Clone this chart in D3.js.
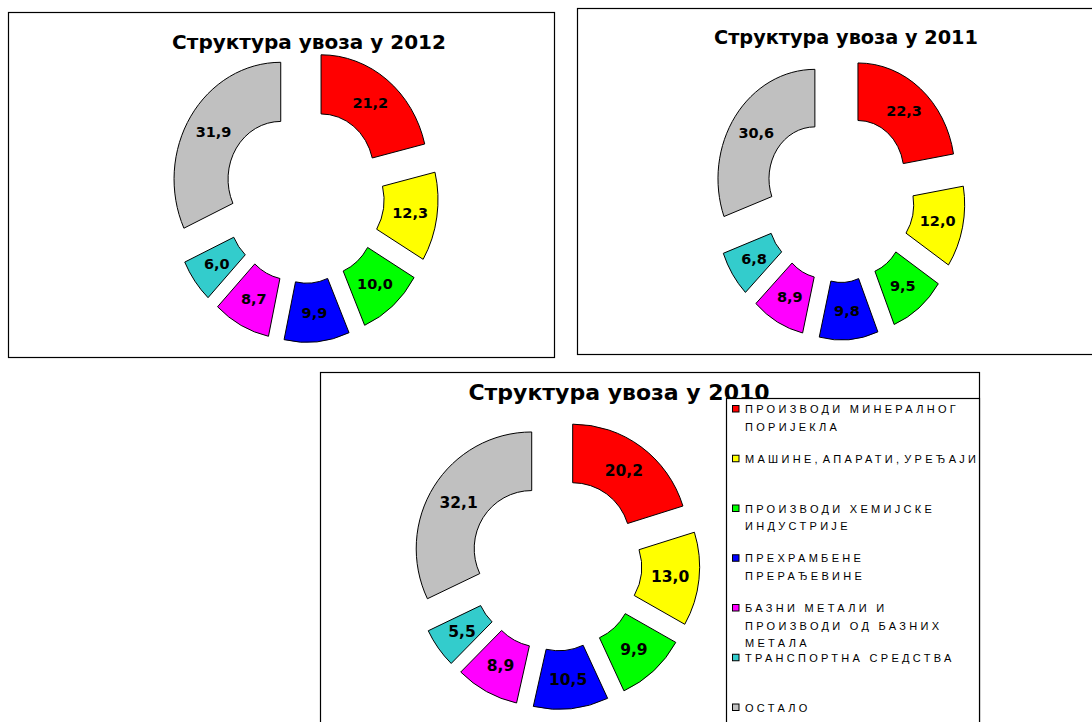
<!DOCTYPE html>
<html>
<head>
<meta charset="utf-8">
<script src="https://cdn.jsdelivr.net/npm/d3@7"></script>
<style>
  body { margin: 0; background: #fff; }
  svg { display: block; }
</style>
</head>
<body>
<script>
// categories (legend order = slice order, clockwise from 12 o'clock)
const categories = [
  'ПРОИЗВОДИ МИНЕРАЛНОГ\nПОРИЈЕКЛА',
  'МАШИНЕ, АПАРАТИ, УРЕЂАЈИ',
  'ПРОИЗВОДИ ХЕМИЈСКЕ\nИНДУСТРИЈЕ',
  'ПРЕХРАМБЕНЕ\nПРЕРАЂЕВИНЕ',
  'БАЗНИ МЕТАЛИ И\nПРОИЗВОДИ ОД БАЗНИХ\nМЕТАЛА',
  'ТРАНСПОРТНА СРЕДСТВА',
  'ОСТАЛО'
]
const colors = ['#ff0000', '#ffff00', '#00ff00', '#0000ff', '#ff00ff', '#33cccc', '#c0c0c0']

const values2012 = [21.2, 12.3, 10.0, 9.9, 8.7, 6.0, 31.9]
const values2011 = [22.3, 12.0, 9.5, 9.8, 8.9, 6.8, 30.6]
const values2010 = [20.2, 13.0, 9.9, 10.5, 8.9, 5.5, 32.1]

const width = 1092
const height = 722

// panel layout (frame, title, doughnut geometry)
const panels = [
  { title: 'Структура увоза у 2012', values: values2012,
    box: [8, 12, 546, 345], tx: 309, ty: 49, tsize: 20,
    cx: 304, cy: 195.4, R: 106.7, r: 52.7, e: 27.6, sy: 1.095, lsize: 14.5 },
  { title: 'Структура увоза у 2011', values: values2011,
    box: [577, 8, 530, 346], tx: 846, ty: 44, tsize: 19.3,
    cx: 839, cy: 197.6, R: 96.9, r: 45.9, e: 29.4, sy: 1.128, lsize: 14.5 },
  { title: 'Структура увоза у 2010', values: values2010,
    box: [320, 372, 659, 360], tx: 619, ty: 400, tsize: 22,
    cx: 555.8, cy: 564, R: 115.5, r: 57.5, e: 28.5, sy: 1.01, lsize: 15.5, legend: true }
]

const fmt = d3.formatLocale({ decimal: ',', thousands: '.', grouping: [3], currency: ['', ''] }).format('.1f')
const color = d3.scaleOrdinal().domain(categories).range(colors)
const pie = d3.pie().sort(null).value(d => d.value)

const svg = d3.select('body')
  .append('svg')
  .attr('width', width)
  .attr('height', height)
  .style('font-family', 'DejaVu Sans, Verdana, sans-serif')

panels.forEach(p => {
  const g = svg.append('g')

  g.append('rect')
    .attr('x', p.box[0] + 0.5)
    .attr('y', p.box[1] + 0.5)
    .attr('width', p.box[2])
    .attr('height', p.box[3])
    .attr('fill', '#fff')
    .attr('stroke', '#000')
    .attr('stroke-width', 1.2)

  g.append('text')
    .text(p.title)
    .attr('x', p.tx)
    .attr('y', p.ty)
    .attr('text-anchor', 'middle')
    .attr('font-size', p.tsize)
    .attr('font-weight', 'bold')
    .attr('fill', '#000')

  const arcs = pie(categories.map((c, i) => ({ cat: c, value: p.values[i] })))
  const arc = d3.arc().innerRadius(p.r).outerRadius(p.R)
  const mid = d => (d.startAngle + d.endAngle) / 2

  g.append('g')
    .attr('transform', `translate(${p.cx},${p.cy}) scale(1,${p.sy})`)
    .selectAll('path')
    .data(arcs)
    .join('path')
    .attr('d', arc)
    .attr('transform', d => `translate(${p.e * Math.sin(mid(d))},${-p.e * Math.cos(mid(d))})`)
    .attr('fill', d => color(d.data.cat))
    .attr('stroke', '#000')
    .attr('stroke-width', 1)
    .attr('vector-effect', 'non-scaling-stroke')

  const rm = (p.R + p.r) / 2 + p.e
  g.selectAll('text.lbl')
    .data(arcs)
    .join('text')
    .attr('class', 'lbl')
    .attr('x', d => p.cx + rm * Math.sin(mid(d)))
    .attr('y', d => p.cy - rm * Math.cos(mid(d)) * p.sy)
    .attr('dy', '0.36em')
    .attr('text-anchor', 'middle')
    .attr('font-size', p.lsize)
    .attr('font-weight', 'bold')
    .attr('fill', '#000')
    .text(d => fmt(d.data.value))

  if (p.legend) drawLegend(g)
})

function drawLegend(g) {
  const lx = 726, ly = 398, lw = 253, lh = 340
  svg.append('clipPath').attr('id', 'legclip')
    .append('rect').attr('x', lx).attr('y', ly).attr('width', lw).attr('height', lh)

  g.append('rect')
    .attr('x', lx + 0.5)
    .attr('y', ly + 0.5)
    .attr('width', lw)
    .attr('height', lh)
    .attr('fill', '#fff')
    .attr('stroke', '#000')
    .attr('stroke-width', 1.2)

  const y = d3.scalePoint().domain(categories).range([409, 707.5])
  const items = g.append('g')
    .attr('clip-path', 'url(#legclip)')
    .selectAll('g')
    .data(categories)
    .join('g')
    .attr('transform', d => `translate(0,${y(d)})`)

  items.append('rect')
    .attr('x', 732.5)
    .attr('y', -3.5)
    .attr('width', 6.5)
    .attr('height', 6.5)
    .attr('fill', d => color(d))
    .attr('stroke', '#000')
    .attr('stroke-width', 1)

  items.append('text')
    .attr('x', 745)
    .attr('font-family', 'Liberation Sans, Arial, sans-serif')
    .attr('font-size', 11)
    .attr('letter-spacing', 3.3)
    .attr('fill', '#000')
    .selectAll('tspan')
    .data(d => d.split('\n'))
    .join('tspan')
    .attr('x', 745)
    .attr('y', (d, i) => 4 + i * 17.5)
    // the comma-separated line sits tighter in the original
    .attr('word-spacing', d => d.includes(',') ? -4.5 : null)
    .text(d => d)
}
</script>
</body>
</html>
